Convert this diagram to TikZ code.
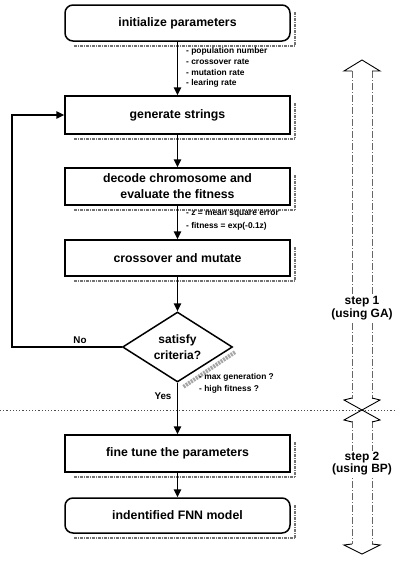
\documentclass[tikz,border=0pt]{standalone}
\usepackage{fontspec}
\setmainfont{Liberation Sans}
\usetikzlibrary{arrows.meta,shapes.geometric,calc}
\begin{document}
\begin{tikzpicture}[x=1pt,y=-1pt,
  flowbox/.style={draw,line width=1.5pt,minimum width=225pt,inner sep=0pt,
    font=\fontsize{12.3}{16}\selectfont\bfseries,align=center},
  roundbox/.style={flowbox,rounded corners=8pt},
  decision/.style={diamond,draw,line width=1.5pt,inner sep=0pt,aspect=1.57,
    minimum width=110pt,minimum height=70pt,
    font=\fontsize{12}{16.5}\selectfont\bfseries,align=center},
  flow/.style={line width=1.5pt,-{Triangle[length=8pt,width=7.5pt]}},
  note/.style={anchor=west,inner sep=0pt,font=\fontsize{8.4}{10}\selectfont\bfseries},
  yn/.style={inner sep=0pt,font=\fontsize{9.8}{11}\selectfont\bfseries},
  steplabel/.style={fill=white,inner sep=1pt,align=center,
    font=\fontsize{12}{12.5}\selectfont\bfseries},
  shadowline/.style={draw=black!55,line width=1.8pt,dash pattern=on 3pt off 1pt on 1pt off 1pt},
  shaft/.style={draw=black!60,line width=0.7pt,dash pattern=on 7pt off 2pt on 1pt off 2pt},
  headline/.style={draw=black,line width=0.9pt,line join=miter},
  sep/.style={draw=black!70,line width=0.8pt,dash pattern=on 1.2pt off 2pt}]
\useasboundingbox (0,0) rectangle (395,565);

% nodes
\node[roundbox,minimum height=36pt] (init) at (177.5,23) {initialize parameters};
\node[flowbox,minimum height=38pt] (gen) at (177.5,115) {generate strings};
\node[flowbox,minimum height=37pt] (dec) at (177.5,186.5) {decode chromosome and\\evaluate the fitness};
\node[flowbox,minimum height=36pt] (cross) at (177.5,258) {crossover and mutate};
\node[decision] (sat) at (177.5,347) {satisfy\\criteria?};
\node[flowbox,minimum height=37pt] (fine) at (177.5,453.5) {fine tune the parameters};
\node[roundbox,minimum height=35pt] (fnn) at (177.5,515.5) {indentified FNN model};

% scan-like shadows
\foreach \b in {init,gen,dec,cross,fine,fnn}{
  \draw[shadowline] ($(\b.south west)+(10,4)$) -- ($(\b.south east)+(4,4)$);
  \draw[shadowline] ($(\b.north east)+(4,8)$) -- ($(\b.south east)+(4,4)$);
}
\draw[draw=black!35,line width=4pt,dash pattern=on 2pt off 1pt] ($(sat.south)+(6,4)$) -- ($(sat.east)+(2,5)$);

% connectors
\draw[flow] (init) -- (gen);
\draw[flow] (gen) -- (dec);
\draw[flow] (dec) -- (cross);
\draw[flow] (cross) -- (sat);
\draw[flow] (sat) -- (fine);
\draw[flow] (fine) -- (fnn);
\coordinate (loopc) at (12,347);
\draw[flow] (sat.west) -- (loopc) |- (gen.west);

% labels
\node[yn] (no) at (80,340) {No};
\node[yn] (yes) at (163,396) {Yes};

\node[note] (n1) at (186,51) {- population number};
\node[note] (n2) at (186,62) {- crossover rate};
\node[note] (n3) at (186,72.5) {- mutation rate};
\node[note] (n4) at (186,83) {- learing rate};

\node[note] (n5) at (186,214) {- z = mean square error};
\node[note] (n6) at (186,226) {- fitness = exp(-0.1z)};

\node[note] (n7) at (199,377) {- max generation ?};
\node[note] (n8) at (199,389) {- high fitness ?};

% separator
\draw[sep] (0,410) -- (395,410);

% step 1 arrow
\draw[shaft] (352,71) -- (352,399);
\draw[shaft] (372,71) -- (372,399);
\draw[headline] (352,71) -- (344,71) -- (362,60) -- (380,71) -- (372,71);
\draw[headline] (352,398) -- (344,400) -- (362,410) -- (380,400) -- (372,398);
% step 2 arrow
\draw[shaft] (352,421) -- (352,544);
\draw[shaft] (372,421) -- (372,544);
\draw[headline] (352,422) -- (344,420) -- (362,410) -- (380,420) -- (372,422);
\draw[headline] (352,544) -- (344,545) -- (362,554) -- (380,545) -- (372,544);

\node[steplabel] (s1) at (362,308) {step 1\\(using GA)};
\node[steplabel] (s2) at (362,463.5) {step 2\\(using BP)};
\end{tikzpicture}
\end{document}
